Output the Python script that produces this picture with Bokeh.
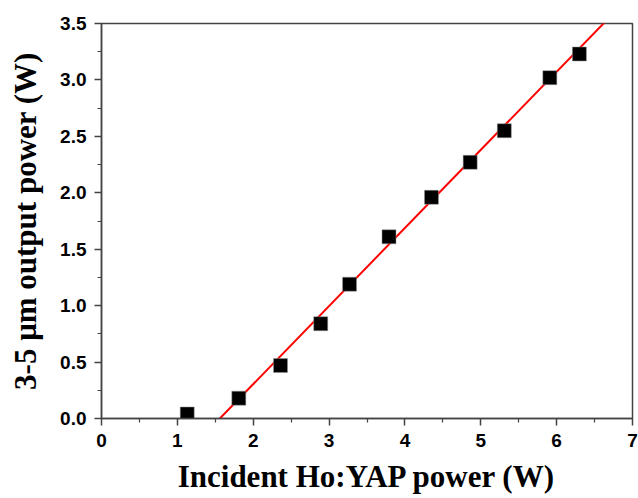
from bokeh.plotting import figure
from bokeh.models import Range1d, FixedTicker, CustomJSTickFormatter
from bokeh.embed import file_html
from bokeh.resources import INLINE

# Data
incident_power = [1.13, 1.81, 2.36, 2.89, 3.27, 3.79, 4.35, 4.86, 5.31, 5.91, 6.30]
output_power = [0.04, 0.18, 0.47, 0.84, 1.19, 1.61, 1.96, 2.27, 2.55, 3.02, 3.23]

# Linear fit shown in the reference (threshold and slope)
fit_threshold = 1.56
fit_slope = 0.692
fit_x = [fit_threshold, 7.0]
fit_y = [fit_slope * (x - fit_threshold) for x in fit_x]

x_ticks = [0, 1, 2, 3, 4, 5, 6, 7]
y_ticks = [0.0, 0.5, 1.0, 1.5, 2.0, 2.5, 3.0, 3.5]

p = figure(width=638, height=498, output_backend="svg", toolbar_location=None,
           x_range=Range1d(0, 7), y_range=Range1d(0, 3.5),
           min_border_left=101, min_border_right=6, min_border_top=23, min_border_bottom=80)

p.background_fill_color = "white"
p.border_fill_color = "white"
p.outline_line_color = "#444444"
p.outline_line_width = 1.5
p.grid.visible = False

p.line(fit_x, fit_y, line_color="#ff0000", line_width=2)
p.scatter(incident_power, output_power, marker="square", size=14,
          fill_color="black", line_color="#999999", line_width=0.5)

for ax in (p.xaxis[0], p.yaxis[0]):
    ax.axis_line_color = "#444444"
    ax.axis_line_width = 1.5
    ax.major_tick_line_color = "#444444"
    ax.minor_tick_line_color = "#444444"
    ax.major_tick_line_width = 1.5
    ax.minor_tick_line_width = 1.2
    ax.major_tick_out = 7
    ax.major_tick_in = 0
    ax.minor_tick_out = 4
    ax.minor_tick_in = 0
    ax.major_label_text_font = "Liberation Sans"
    ax.major_label_text_font_style = "bold"
    ax.major_label_text_font_size = "19px"
    ax.major_label_text_color = "black"
    ax.axis_label_text_font = "Liberation Serif"
    ax.axis_label_text_font_style = "bold"
    ax.axis_label_text_font_size = "31px"
    ax.axis_label_text_color = "black"

p.xaxis[0].ticker = FixedTicker(ticks=x_ticks, minor_ticks=[0.5 + i for i in range(7)])
p.yaxis[0].ticker = FixedTicker(ticks=y_ticks, minor_ticks=[0.25 + 0.5 * i for i in range(7)])
p.yaxis[0].formatter = CustomJSTickFormatter(code="return tick.toFixed(1);")
p.xaxis[0].major_label_standoff = 8
p.yaxis[0].major_label_standoff = 8
p.xaxis[0].axis_label = "Incident Ho:YAP power (W)"
p.yaxis[0].axis_label = "3-5 \u03bcm output power (W)"
p.xaxis[0].axis_label_standoff = 9
p.yaxis[0].axis_label_standoff = 14

open("out.html", "w").write(file_html(p, INLINE))
